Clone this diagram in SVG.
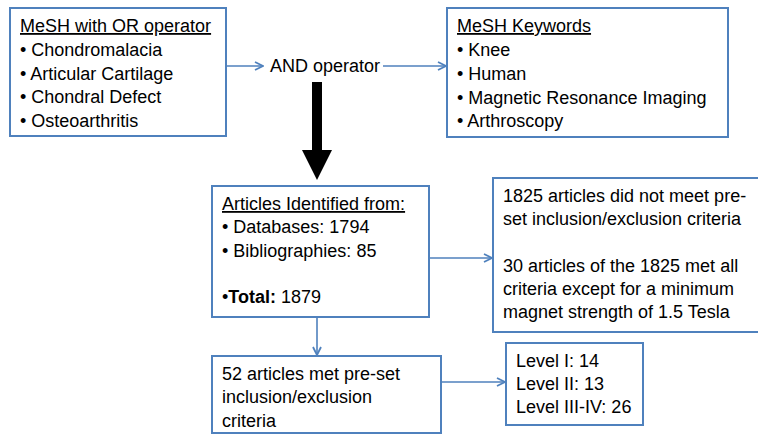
<svg xmlns="http://www.w3.org/2000/svg" width="758" height="439" viewBox="0 0 758 439">
<style>
.box{fill:#fff;stroke:#4F81BD;stroke-width:2}
text{font-family:"Liberation Sans",Arial,sans-serif;font-size:18px;fill:#000}
.u{text-decoration:underline}
.c{fill:none;stroke:#4F81BD;stroke-width:1.6}
</style>
<defs>
<marker id="ah" viewBox="0 0 10 10" refX="9" refY="5" markerWidth="10" markerHeight="10" markerUnits="userSpaceOnUse" orient="auto">
<path d="M1,1 L9,5 L1,9" fill="none" stroke="#4F81BD" stroke-width="1.8"/>
</marker>
</defs>
<rect width="758" height="439" fill="#fff"/>
<g id="connectors">
<line class="c" x1="227" y1="66" x2="263" y2="66" marker-end="url(#ah)"/>
<line class="c" x1="383" y1="66" x2="446" y2="66" marker-end="url(#ah)"/>
<polygon points="312,82 322,82 322,150 332,150 317,180 302,150 312,150" fill="#000"/>
<line class="c" x1="430" y1="258" x2="492" y2="258" marker-end="url(#ah)"/>
<line class="c" x1="317" y1="318" x2="317" y2="355" marker-end="url(#ah)"/>
<line class="c" x1="442" y1="382" x2="505" y2="382" marker-end="url(#ah)"/>
</g>
<g id="mesh-or">
<rect class="box" x="10" y="8" width="216" height="128"/>
<text x="20" y="32" class="u">MeSH with OR operator</text>
<text x="20" y="56">• Chondromalacia</text>
<text x="20" y="80">• Articular Cartilage</text>
<text x="20" y="103">• Chondral Defect</text>
<text x="20" y="127">• Osteoarthritis</text>
</g>
<g id="and-op">
<text x="270" y="72">AND operator</text>
</g>
<g id="mesh-kw">
<rect class="box" x="447" y="8" width="281" height="129"/>
<text x="457" y="32" class="u">MeSH Keywords</text>
<text x="457" y="56">• Knee</text>
<text x="457" y="80">• Human</text>
<text x="457" y="104">• Magnetic Resonance Imaging</text>
<text x="457" y="127">• Arthroscopy</text>
</g>
<g id="identified">
<rect class="box" x="212" y="186" width="217" height="131"/>
<text x="222" y="210" class="u">Articles Identified from:</text>
<text x="222" y="233">• Databases: 1794</text>
<text x="222" y="257">• Bibliographies: 85</text>
<text x="222" y="303">•<tspan font-weight="bold">Total:</tspan> 1879</text>
</g>
<g id="excluded">
<rect class="box" x="493" y="178" width="270" height="154"/>
<text x="503" y="202">1825 articles did not meet pre-</text>
<text x="503" y="225">set inclusion/exclusion criteria</text>
<text x="503" y="272">30 articles of the 1825 met all</text>
<text x="503" y="295">criteria except for a minimum</text>
<text x="503" y="318">magnet strength of 1.5 Tesla</text>
</g>
<g id="included">
<rect class="box" x="212" y="356" width="229" height="77"/>
<text x="222" y="380">52 articles met pre-set</text>
<text x="222" y="403">inclusion/exclusion</text>
<text x="222" y="427">criteria</text>
</g>
<g id="levels">
<rect class="box" x="506" y="343" width="137" height="82"/>
<text x="516" y="367">Level I: 14</text>
<text x="516" y="390">Level II: 13</text>
<text x="516" y="413">Level III-IV: 26</text>
</g>
</svg>
